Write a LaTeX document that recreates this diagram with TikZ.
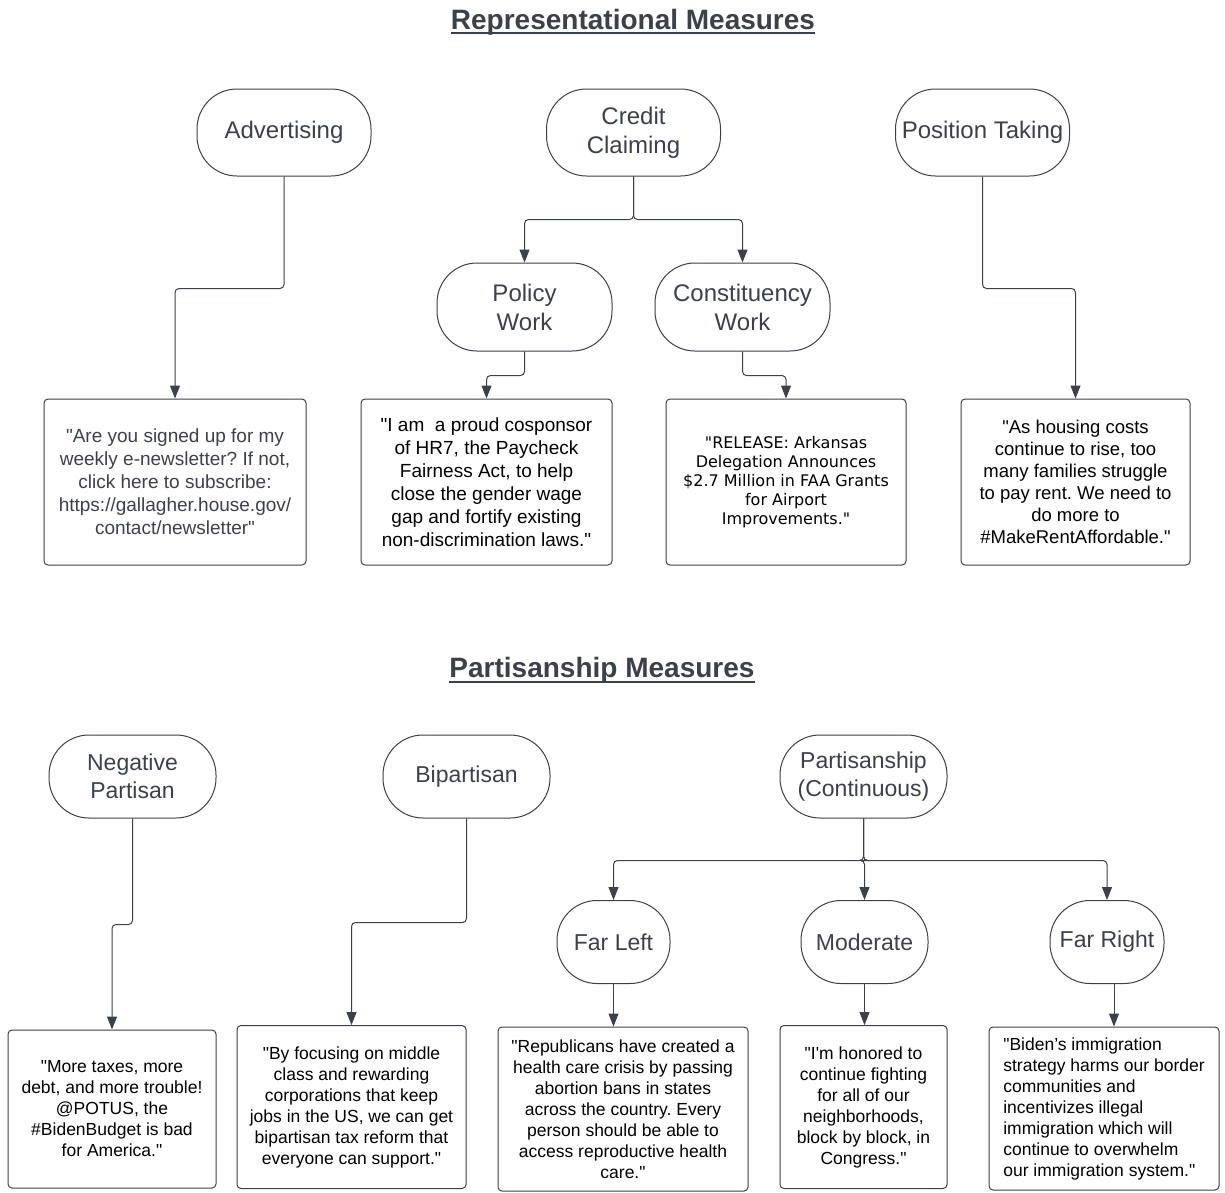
\documentclass[tikz,border=0pt]{standalone}
\usepackage{fontspec}
\setmainfont{Liberation Sans}[Ligatures=TeXOff]
\newfontfamily\dejavu{DejaVu Sans}
\usepackage{xcolor}
\usetikzlibrary{arrows.meta,positioning}
\definecolor{tinta}{HTML}{3A414A}
\tikzset{
    categoria/.style={
        rectangle,
        draw=tinta,
        line width=1pt,
        rounded corners=40pt,
        align=center,
        inner sep=0pt,
        text=tinta,
        font=\fontsize{24}{29}\selectfont,
        minimum width=174pt,
        minimum height=87pt
    },
    subcategoria/.style={categoria, font=\fontsize{23}{28}\selectfont, minimum height=83pt},
    citacao/.style={
        rectangle,
        draw=tinta,
        line width=1pt,
        rounded corners=4pt,
        align=center,
        inner sep=0pt,
        font=\fontsize{19}{23}\selectfont
    },
    citacaoMenor/.style={citacao, font=\fontsize{17.5}{21}\selectfont},
    titulo/.style={font=\fontsize{28}{34}\selectfont\bfseries, text=tinta, inner sep=0pt, anchor=base},
    sublinhado/.style={draw=tinta, line width=2.4pt},
    seta/.style={draw=tinta, line width=1pt, rounded corners=4pt, -{Triangle[length=13pt,width=10pt]}}
}

\begin{document}
\frenchspacing
\begin{tikzpicture}[x=1pt, y=-1pt]
    \useasboundingbox (0,0) rectangle (1225,1192);

    % titulos
    \node[titulo] (tit1) at (633,29) {Representational Measures};
    \node[titulo] (tit2) at (602,677) {Partisanship Measures};
    \draw[sublinhado] ([yshift=-4pt]tit1.base west) -- ([yshift=-4pt]tit1.base east);
    \draw[sublinhado] ([yshift=-5pt]tit2.base west) -- ([yshift=-5pt]tit2.base east);

    % medidas representacionais
    \node[categoria] (adv) at (284,132.5) {Advertising};
    \node[categoria] (credito) at (633.5,132.5) {Credit\\Claiming};
    \node[categoria] (posicao) at (982.5,132.5) {Position Taking};
    \node[categoria, minimum width=175pt, minimum height=88pt] (politica) at (524.5,307) {Policy\\Work};
    \node[categoria, minimum width=175pt, minimum height=88pt] (eleitorado) at (742.5,307) {Constituency\\Work};

    \node[citacao, text=tinta, minimum width=262pt, minimum height=166pt] (q1) at (175,482)
        {"Are you signed up for my\\weekly e-newsletter? If not,\\click here to subscribe:\\https://gallagher.house.gov/\\contact/newsletter"};
    \node[citacao, minimum width=251pt, minimum height=166pt] (q2) at (486.5,482)
        {"I am~ a proud cosponsor\\of HR7, the Paycheck\\Fairness Act, to help\\close the gender wage\\gap and fortify existing\\non-discrimination laws."};
    \node[citacao, font=\dejavu\fontsize{16}{19}\selectfont, minimum width=240pt, minimum height=166pt] (q3) at (786,482)
        {"RELEASE: Arkansas\\Delegation Announces\\\$2.7 Million in FAA Grants\\for Airport\\Improvements."};
    \node[citacao, font=\fontsize{18.5}{22}\selectfont, minimum width=229pt, minimum height=166pt] (q4) at (1075.5,482)
        {"As housing costs\\continue to rise, too\\many families struggle\\to pay rent. We need to\\do more to\\\#MakeRentAffordable."};

    \draw[seta] (adv.south) -- ++(0,112) -| (q1.north);
    \draw[seta] (credito.south) -- ++(0,43) -| (politica.north);
    \draw[seta] (credito.south) -- ++(0,43) -| (eleitorado.north);
    \draw[seta] (posicao.south) -- ++(0,112) -| (q4.north);
    \draw[seta] (politica.south) -- ++(0,24) -| (q2.north);
    \draw[seta] (eleitorado.south) -- ++(0,24) -| (q3.north);

    % medidas de partidarismo
    \node[subcategoria, minimum width=167pt] (negativo) at (132.5,776.5) {Negative\\Partisan};
    \node[subcategoria, minimum width=167pt] (bipartidario) at (466.5,776.5) {Bipartisan};
    \node[subcategoria, minimum width=167pt] (continuo) at (863.5,776.5) {Partisanship\\(Continuous)};
    \node[subcategoria, minimum width=113pt] (esquerda) at (613.5,942) {Far Left};
    \node[subcategoria, minimum width=127pt] (moderado) at (864.5,942) {Moderate};
    \node[subcategoria, minimum width=114pt] (direita) at (1107,942) {Far Right};

    \node[citacaoMenor, minimum width=208pt, minimum height=158pt] (q5) at (112,1109)
        {"More taxes, more\\debt, and more trouble!\\@POTUS, the\\\#BidenBudget is bad\\for America."};
    \node[citacaoMenor, minimum width=229pt, minimum height=163pt] (q6) at (351.5,1107)
        {"By focusing on middle\\class and rewarding\\corporations that keep\\jobs in the US, we can get\\bipartisan tax reform that\\everyone can support."};
    \node[citacaoMenor, minimum width=250pt, minimum height=164pt] (q7) at (623,1109)
        {"Republicans have created a\\health care crisis by passing\\abortion bans in states\\across the country. Every\\person should be able to\\access reproductive health\\care."};
    \node[citacaoMenor, minimum width=167pt, minimum height=163pt] (q8) at (863.5,1107)
        {"I'm honored to\\continue fighting\\for all of our\\neighborhoods,\\block by block, in\\Congress."};
    \node[citacaoMenor, align=left, minimum width=230pt, minimum height=163pt] (q9) at (1104,1108.5)
        {"Biden’s immigration\\strategy harms our border\\communities and\\incentivizes illegal\\immigration which will\\continue to overwhelm\\our immigration system."};

    \draw[seta] (negativo.south) -- ++(0,106) -| (q5.north);
    \draw[seta] (bipartidario.south) -- ++(0,104) -| (q6.north);
    \draw[seta] (continuo.south) -- ++(0,42) -| (esquerda.north);
    \draw[seta] (continuo.south) -- ++(0,42) -| (moderado.north);
    \draw[seta] (continuo.south) -- ++(0,42) -| (direita.north);
    \draw[seta] (esquerda.south) -- (esquerda.south |- q7.north);
    \draw[seta] (moderado.south) -- (moderado.south |- q8.north);
    \draw[seta] ([xshift=7pt]direita.south) -- ([xshift=7pt]direita.south |- q9.north);
\end{tikzpicture}
\end{document}
